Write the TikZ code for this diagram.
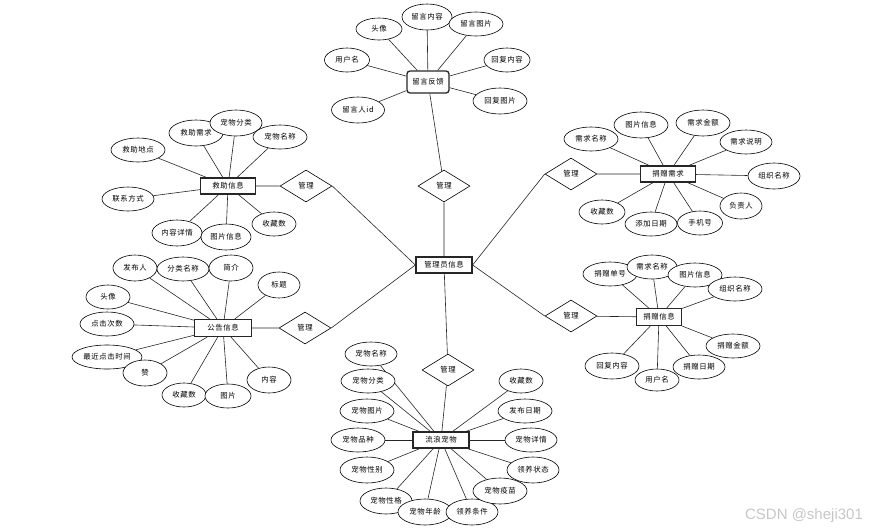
\documentclass[tikz,border=0pt]{standalone}
\usepackage{fontspec}
\newfontfamily\cjk[LetterSpace=8]{Noto Sans CJK SC}
\newfontfamily\wmfont{Liberation Sans}
\usetikzlibrary{shapes.geometric}
\pgfdeclarelayer{bg}
\pgfsetlayers{bg,main}
\begin{document}
\begin{tikzpicture}[x=1pt,y=-1pt,
  every node/.style={font=\cjk\fontsize{7.4}{8}\selectfont, inner sep=0pt},
  ent/.style={draw=black!85, line width=1.3pt, fill=white, minimum height=16pt, minimum width=#1},
  ent/.default=56pt,
  attr/.style={ellipse, draw, line width=0.6pt, fill=white, minimum height=24pt, minimum width=#1},
  attr/.default=54pt,
  tall/.style={minimum height=26pt},
  rel/.style={diamond, draw, line width=0.6pt, fill=white, minimum width=52pt, minimum height=32pt},
  conn/.style={draw=black!85, line width=0.6pt}
]
\useasboundingbox (0,0) rectangle (870,531);

% ---------- center ----------
\node[ent] (adm) at (444,265) {管理员信息};
\node[rel] (rt) at (444,186) {管理};
\node[rel] (rb) at (448,370) {管理};
\node[rel] (rlu) at (306,186) {管理};
\node[rel] (rll) at (305,328) {管理};
\node[rel] (rru) at (571,174) {管理};
\node[rel] (rrl) at (571,316) {管理};

% ---------- top: 留言反馈 ----------
\node[draw=black!85, line width=1.3pt, rounded corners=3pt, fill=white, minimum width=42pt, minimum height=22pt] (fb) at (428,82) {留言反馈};
\node[attr=46pt, minimum height=22pt] (t1) at (379,29) {头像};
\node[attr=50pt, tall] (t2) at (427,17) {留言内容};
\node[attr=54pt] (t3) at (476,24) {留言图片};
\node[attr=45pt] (t4) at (347,60) {用户名};
\node[attr=46pt] (t5) at (507,60) {回复内容};
\node[attr=53pt, tall] (t6) at (358,110) {留言人id};
\node[attr=54pt, tall] (t7) at (500,101) {回复图片};

% ---------- left upper: 救助信息 ----------
\node[ent=55pt] (jz) at (228,186) {救助信息};
\node[attr=54pt, tall] (a1) at (196,133) {救助需求};
\node[attr=52pt, tall] (a2) at (236,123) {宠物分类};
\node[attr=54pt] (a3) at (280,137) {宠物名称};
\node[attr=54pt] (a4) at (138,150) {救助地点};
\node[attr=52pt] (a5) at (128,199) {联系方式};
\node[attr=50pt, tall] (a6) at (177,233) {内容详情};
\node[attr=50pt, tall] (a7) at (226,237) {图片信息};
\node[attr=44pt] (a8) at (274,224) {收藏数};

% ---------- right upper: 捐赠需求 ----------
\node[ent=55pt] (jx) at (668,174) {捐赠需求};
\node[attr=54pt] (b1) at (591,139) {需求名称};
\node[attr=54pt, tall] (b2) at (641,125) {图片信息};
\node[attr=54pt, tall] (b3) at (703,123) {需求金额};
\node[attr=52pt] (b4) at (746,142) {需求说明};
\node[attr=52pt, tall] (b5) at (774,176) {组织名称};
\node[attr=42pt, tall] (b6) at (741,206) {负责人};
\node[attr=52pt] (b8) at (651,224) {添加日期};
\node[attr=45pt] (b7) at (700,223) {手机号};
\node[attr=46pt] (b9) at (602,212) {收藏数};

% ---------- left lower: 公告信息 ----------
\node[ent=57pt, minimum height=17pt] (gg) at (223,328) {公告信息};
\node[attr=44pt, tall] (c1) at (135,268) {发布人};
\node[attr=52pt] (c2) at (183,269) {分类名称};
\node[attr=44pt, tall] (c3) at (231,268) {简介};
\node[attr=42pt, tall] (c4) at (279,285) {标题};
\node[attr=44pt] (c5) at (108,297) {头像};
\node[attr=54pt] (c6) at (107,324) {点击次数};
\node[attr=70pt] (c7) at (107,357) {最近点击时间};
\node[attr=44pt, tall] (c8) at (145,373) {赞};
\node[attr=44pt] (c9) at (184,395) {收藏数};
\node[attr=46pt] (c10) at (228,396) {图片};
\node[attr=44pt, tall] (c11) at (269,380) {内容};

% ---------- right lower: 捐赠信息 ----------
\node[ent=45pt, minimum height=17pt] (jxx) at (659,317) {捐赠信息};
\node[attr=54pt] (d1) at (610,274) {捐赠单号};
\node[attr=50pt] (d2) at (652,267) {需求名称};
\node[attr=54pt] (d3) at (695,275) {图片信息};
\node[attr=54pt] (d4) at (735,289) {组织名称};
\node[attr=54pt] (d5) at (733,346) {捐赠金额};
\node[attr=52pt] (d6) at (699,367) {捐赠日期};
\node[attr=54pt, tall] (d8) at (612,366) {回复内容};
\node[attr=44pt, minimum height=22pt] (d7) at (657,380) {用户名};

% ---------- bottom: 流浪宠物 ----------
\node[ent] (lw) at (441,440) {流浪宠物};
\node[attr=52pt] (e1) at (371,354) {宠物名称};
\node[attr=54pt] (e2) at (368,381) {宠物分类};
\node[attr=54pt] (e3) at (367,411) {宠物图片};
\node[attr=54pt] (e4) at (358,440) {宠物品种};
\node[attr=54pt, tall] (e5) at (367,470) {宠物性别};
\node[attr=52pt, tall] (e6) at (386,501) {宠物性格};
\node[attr=54pt, tall] (e7) at (425,512) {宠物年龄};
\node[attr=52pt, tall] (e8) at (472,512) {领养条件};
\node[attr=54pt, tall] (e9) at (500,491) {宠物疫苗};
\node[attr=52pt, tall] (e10) at (533,470) {领养状态};
\node[attr=52pt] (e11) at (531,440) {宠物详情};
\node[attr=54pt] (e12) at (525,411) {发布日期};
\node[attr=44pt] (e13) at (521,381) {收藏数};

% watermark
\node[text=black!22, font=\wmfont\fontsize{15}{17}\selectfont] (wm) at (804,516) {CSDN @sheji301};

% ---------- connectors (behind nodes) ----------
\begin{pgfonlayer}{bg}
\path[conn] (adm) -- (rt) (rt) -- (fb)
  (adm.west) -- (rlu.east) (rlu) -- (jz)
  (adm.west) -- (rll.east) (rll) -- (gg)
  (adm.east) -- (rru.west) (rru) -- (jx)
  (adm.east) -- (rrl.west) (rrl) -- (jxx)
  (adm) -- (rb) (rb) -- (lw);
\foreach \n in {t1,t2,t3,t4,t5,t6,t7} \path[conn] (fb) -- (\n);
\foreach \n in {a1,a2,a3,a4,a5,a6,a7,a8} \path[conn] (jz) -- (\n);
\foreach \n in {b1,b2,b3,b4,b5,b6,b7,b8,b9} \path[conn] (jx) -- (\n);
\foreach \n in {c1,c2,c3,c4,c5,c6,c7,c8,c9,c10,c11} \path[conn] (gg) -- (\n);
\foreach \n in {d1,d2,d3,d4,d5,d6,d7,d8} \path[conn] (jxx) -- (\n);
\foreach \n in {e1,e2,e3,e4,e5,e6,e7,e8,e9,e10,e11,e12,e13} \path[conn] (lw) -- (\n);
\end{pgfonlayer}
\end{tikzpicture}
\end{document}
